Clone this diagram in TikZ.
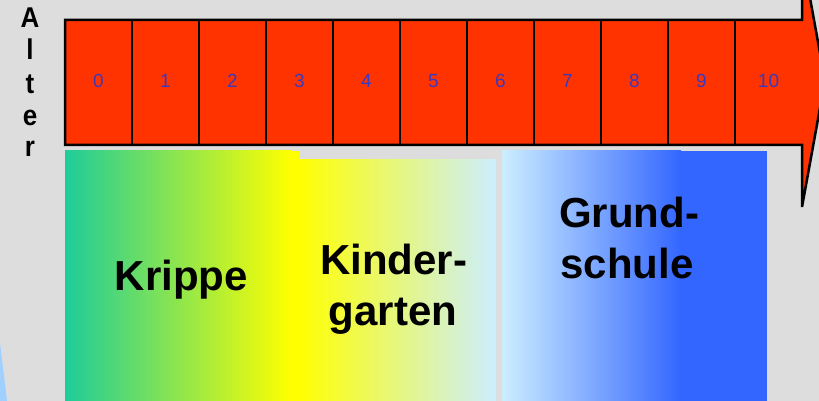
\documentclass[tikz,border=0pt]{standalone}
\usepackage{fontspec}
\setmainfont{Liberation Sans}
\begin{document}
\begin{tikzpicture}[x=1pt,y=-1pt,
  num/.style={font=\fontsize{19}{19}\selectfont, text=numblue, inner sep=0pt},
  agelbl/.style={font=\fontsize{26}{26}\selectfont\bfseries, anchor=base, inner sep=0pt, yscale=1.1},
  biglbl/.style={font=\fontsize{42}{42}\selectfont\bfseries, anchor=base, inner sep=0pt},
  arrowline/.style={draw=black, line width=2.5pt}]
\definecolor{bg}{HTML}{DDDDDD}
\definecolor{arrowred}{HTML}{FF3300}
\definecolor{numblue}{HTML}{3A3ABF}
\definecolor{kgreen}{HTML}{1ECC9A}
\definecolor{kyellow}{HTML}{FFFF00}
\definecolor{lblue}{HTML}{CCEEFF}
\definecolor{gblue}{HTML}{3366FF}
\definecolor{wedge}{HTML}{A0D0FF}
\useasboundingbox (0,0) rectangle (819,401);
\fill[bg] (0,0) rectangle (819,401);
% light blue wedge at bottom left
\fill[wedge] (0,343) -- (7,401) -- (0,401) -- cycle;
% Krippe box
\shade[left color=kgreen, right color=kyellow] (65,151) rectangle (291,401);
\fill[kyellow] (290,151) rectangle (299,401);
% Kindergarten box
\shade[left color=kyellow, right color=lblue] (298.5,159) rectangle (496,401);
% Grundschule box
\shade[left color=lblue, right color=gblue] (502,151) rectangle (681,401);
\fill[gblue] (680,151) rectangle (767,401);
% arrow
\filldraw[fill=arrowred, arrowline] (65,20) -- (802,20) -- (802,-46) -- (825,80.5) -- (802,207) -- (802,145) -- (65,145) -- cycle;
\foreach \k in {1,...,10}{
  \draw[arrowline, line width=2pt] ({65+67*\k},20) -- ({65+67*\k},145);
}
\foreach \k in {0,...,10}{
  \node[num] (n\k) at ({98.5+67*\k},81) {\k};
}
% Alter
\node[agelbl] (a1) at (30,28) {A};
\node[agelbl] (a2) at (30,60) {l};
\node[agelbl] (a3) at (30,94) {t};
\node[agelbl] (a4) at (30,125) {e};
\node[agelbl] (a5) at (30,157) {r};
% labels
\node[biglbl] (krippe) at (181.5,290) {Krippe};
\node[biglbl] (kinder) at (393.5,274) {Kinder-};
\node[biglbl] (garten) at (393,325) {garten};
\node[biglbl] (grund) at (629,227) {Grund-};
\node[biglbl] (schule) at (627,278) {schule};
\end{tikzpicture}
\end{document}
